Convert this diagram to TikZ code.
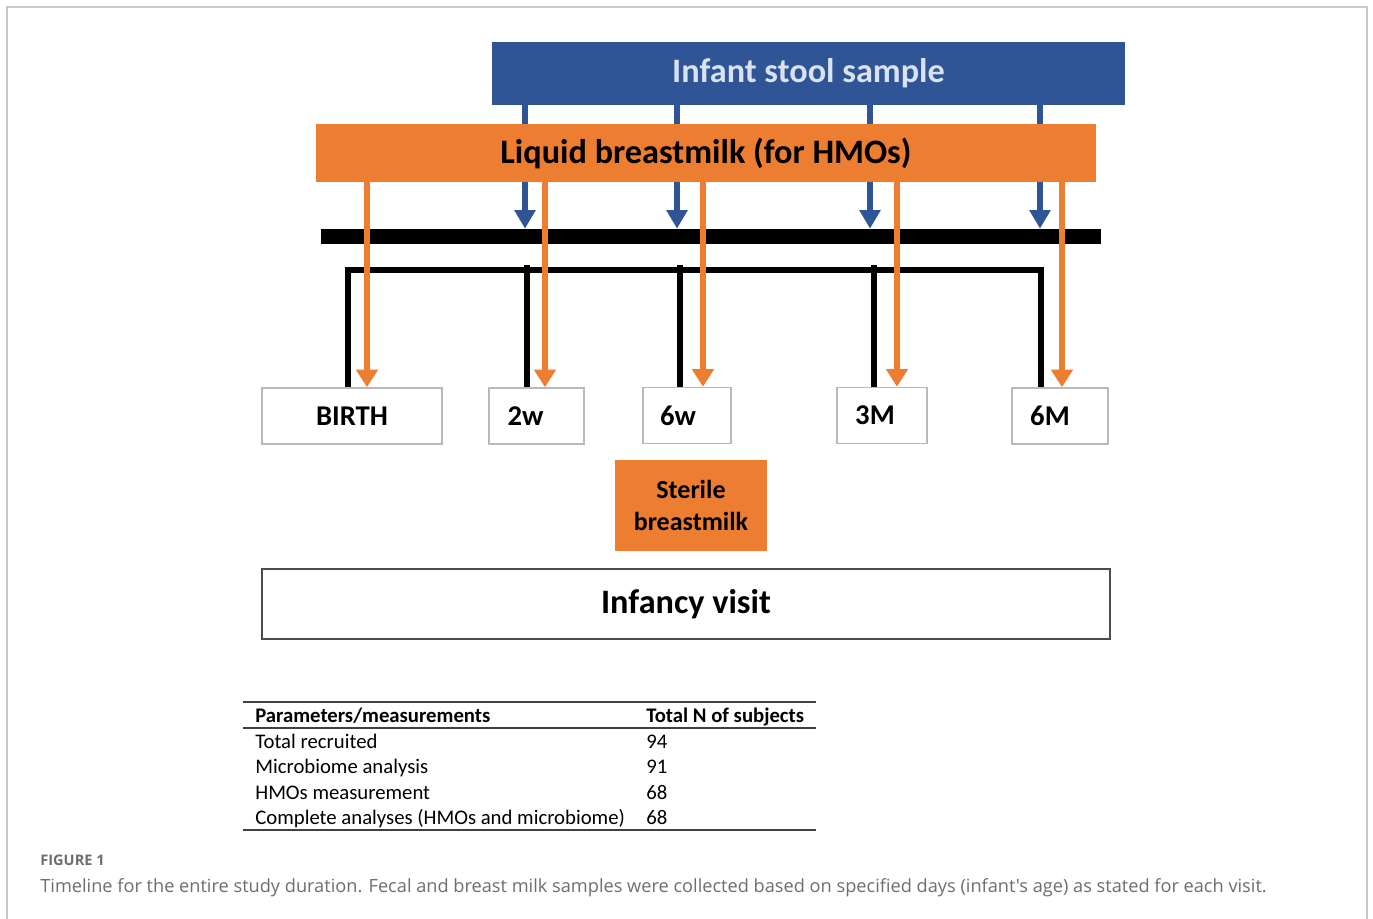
\documentclass[tikz,border=0pt]{standalone}
\usepackage{fontspec}
\setmainfont{Carlito}
\newfontfamily\capfont{Open Sans}
\usetikzlibrary{arrows.meta}
\definecolor{stoolblue}{RGB}{47,85,151}
\definecolor{stooltext}{RGB}{218,225,240}
\definecolor{milkorange}{RGB}{237,125,49}
\definecolor{framegray}{RGB}{200,200,200}
\definecolor{capgray}{RGB}{110,110,110}

\begin{document}
\begin{tikzpicture}[x=0.02cm, y=-0.02cm,
    band/.style={rectangle, inner sep=0pt},
    visitbox/.style={rectangle, draw=gray!55, line width=0.9pt, inner sep=0pt, minimum height=1.12cm, font=\fontsize{16.3}{18}\selectfont\bfseries},
    stoolarrow/.style={stoolblue, line width=3.8pt, -{Triangle[width=11.5pt, length=10.5pt]}},
    milkarrow/.style={milkorange, line width=3.8pt, -{Triangle[width=12pt, length=10pt]}},
    bus/.style={black, line width=3.2pt},
    tablerule/.style={black!75, line width=0.9pt},
    celltext/.style={anchor=base west, inner sep=0pt, font=\fontsize{11.8}{14}\selectfont}]

	% page and frame
	\useasboundingbox (0,0) rectangle (1373,919);
	\fill[white] (0,0) rectangle (1373,919);
	\draw[framegray, line width=0.8pt] (7,930) -- (7,7) -- (1367,7) -- (1367,930);

	% sample bands and the time line
	\node[band, fill=stoolblue, minimum width=12.66cm, minimum height=1.26cm, text=stooltext, font=\fontsize{19.5}{22}\selectfont\bfseries] (stool) at (808.5,73.5) {Infant stool sample};
	\node[band, fill=black, minimum width=15.6cm, minimum height=0.3cm] (bar) at (711,236.5) {};

	\foreach \x in {525,677,870,1040}
		\draw[stoolarrow] (stool.south -| \x,0) -- (bar.north -| \x,0);

	\node[band, fill=milkorange, minimum width=15.6cm, minimum height=1.16cm, font=\fontsize{19.5}{22}\selectfont\bfseries] (liquid) at (706,153) {Liquid breastmilk (for HMOs)};

	% visits
	\node[visitbox, minimum width=3.6cm] (birth) at (352,416) {BIRTH};
	\node[visitbox, minimum width=1.9cm] (twoW) at (536.5,416) {2w\kern0.44cm};
	\node[visitbox, minimum width=1.76cm] (sixW) at (687,415.5) {6w\kern0.36cm};
	\node[visitbox, minimum width=1.8cm] (threeM) at (882,415.5) {3M\kern0.28cm};
	\node[visitbox, minimum width=1.92cm] (sixM) at (1060,416) {6M\kern0.4cm};

	\coordinate (busL) at (348,270);
	\coordinate (busR) at (1041,270);
	\draw[bus] (birth.north -| busL) -- ([yshift=-2pt]busL) -- (busL) -- (busR) -- (sixM.north -| busR);
	\foreach \x/\n in {527/twoW, 680/sixW, 874/threeM}
		\draw[bus] (\x,265) -- (\n.north -| \x,0);

	\foreach \x/\n in {367/birth, 545/twoW, 703/sixW, 897/threeM, 1062/sixM}
		\draw[milkarrow] (liquid.south -| \x,0) -- (\n.north -| \x,0);

	\node[band, fill=milkorange, minimum width=3.04cm, minimum height=1.82cm, align=center, font=\fontsize{14.8}{18}\selectfont\bfseries] (sterile) at (691,505.5) {Sterile\\breastmilk};

	\node[rectangle, draw=black!70, line width=1pt, minimum width=16.96cm, minimum height=1.4cm, font=\fontsize{19.5}{22}\selectfont\bfseries] (visit) at (686,604) {Infancy visit};

	% table of subjects
	\draw[tablerule] (243,702) -- (816,702);
	\draw[tablerule, line width=0.7pt] (243,728) -- (816,728);
	\draw[tablerule] (243,830) -- (816,830);
	\node[celltext, font=\fontsize{11.8}{14}\selectfont\bfseries] (colA) at (255,722) {Parameters/measurements};
	\node[celltext, font=\fontsize{11.8}{14}\selectfont\bfseries] (colB) at (646,722) {Total N of subjects};
	\foreach \lab/\n [count=\i] in {Total recruited/94, Microbiome analysis/91, HMOs measurement/68, Complete analyses (HMOs and microbiome)/68}
	{
		\node[celltext] (row\i) at (255,{723+25.4*\i}) {\lab};
		\node[celltext] (num\i) at (646,{723+25.4*\i}) {\n};
	}

	% caption
	\node[anchor=base west, inner sep=0pt, text=capgray, font=\capfont\fontsize{8.3}{10}\selectfont\bfseries] (figno) at (40,865) {FIGURE 1};
	\node[anchor=base west, inner sep=0pt, text=capgray, font=\capfont\fontsize{10.35}{12}\selectfont] (caption) at (40,892) {Timeline for the entire study duration. Fecal and breast milk samples were collected based on specified days (infant's age) as stated for each visit.};

\end{tikzpicture}
\end{document}
